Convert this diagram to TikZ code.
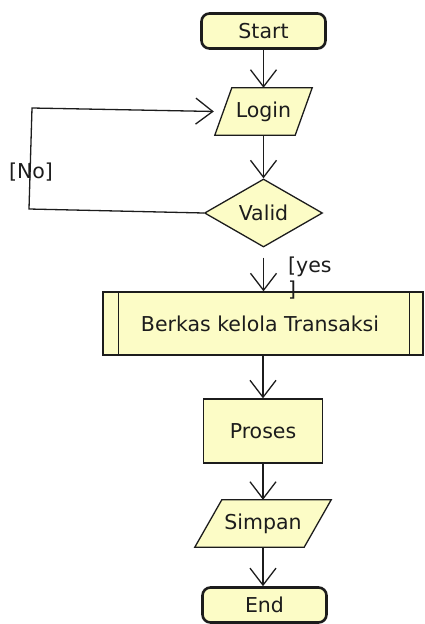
\documentclass[tikz,border=0pt]{standalone}
\usepackage{fontspec}
\setmainfont{DejaVu Sans}
\usetikzlibrary{arrows.meta,shapes.geometric}
\definecolor{nodefill}{RGB}{252,252,198}
\definecolor{ink}{RGB}{28,28,28}
\pgfdeclarelayer{background}
\pgfsetlayers{background,main}
\begin{document}
\begin{tikzpicture}[x=1pt,y=-1pt,
  every node/.style={font=\fontsize{20.5}{24}\selectfont, text=ink},
  base/.style={draw=ink, fill=nodefill, line width=1.3pt, inner sep=0pt},
  terminal/.style={base, rounded corners=8pt, line width=2.6pt,
    minimum width=124pt, minimum height=35pt},
  iobox/.style={rectangle, inner sep=0pt, minimum height=47pt},
  decision/.style={base, diamond, minimum width=118pt, minimum height=68pt},
  process/.style={base, rectangle},
  flow/.style={draw=ink, line width=1.3pt,
    -{Straight Barb[length=17pt,width=26pt]}},
  guard/.style={inner sep=0pt}
]
\useasboundingbox (0,0) rectangle (424,624);

% nodes
\node[terminal] (start) at (263.5,31) {Start};
\node[iobox, minimum width=97pt] (login) at (263.5,111.5) {Login};
\node[decision] (valid) at (263.5,213) {Valid};
\node[process, minimum width=320pt, minimum height=63pt] (berkas) at (263,323.5)
  {Berkas kelola Transaksi\hspace*{6pt}};
\node[process, minimum width=119pt, minimum height=64pt] (proses) at (263,431) {Proses};
\node[iobox, minimum width=136pt] (simpan) at (263,523.5) {Simpan};
\node[terminal] (end) at (264.5,605) {End};

% parallelogram outlines of the data nodes
\begin{pgfonlayer}{background}
  \path[base] ([xshift=17pt]login.north west) -- (login.north east)
    -- ([xshift=-17pt]login.south east) -- (login.south west) -- cycle;
  \path[base] ([xshift=27pt]simpan.north west) -- (simpan.north east)
    -- ([xshift=-27pt]simpan.south east) -- (simpan.south west) -- cycle;
\end{pgfonlayer}

% side bars of the predefined process
\draw[ink, line width=1.3pt] ([xshift=16pt]berkas.north west) -- ([xshift=16pt]berkas.south west);
\draw[ink, line width=1.3pt] ([xshift=-14pt]berkas.north east) -- ([xshift=-14pt]berkas.south east);

% loop corners
\coordinate (loopbl) at (29,209);
\coordinate (looptl) at (32,108);

% connectors
\draw[flow] (start.south) -- (login.north);
\draw[flow] (login.south) -- (valid.north);
\draw[flow, shorten >=1pt] (valid.west) -- (loopbl) -- (looptl) -- (login.west);
\draw[flow, shorten <=10pt] (valid.south) -- (valid.south |- berkas.north);
\draw[flow] (berkas.south) -- (proses.north);
\draw[flow] (proses.south) -- (simpan.north);
\draw[flow] (simpan.south) -- (simpan.south |- end.north);

% guards
\node[guard] (nolabel) at (31,172) {[No]};
\node[guard, anchor=west, align=left] (yeslabel) at (288,278) {[yes\\]};
\end{tikzpicture}
\end{document}
